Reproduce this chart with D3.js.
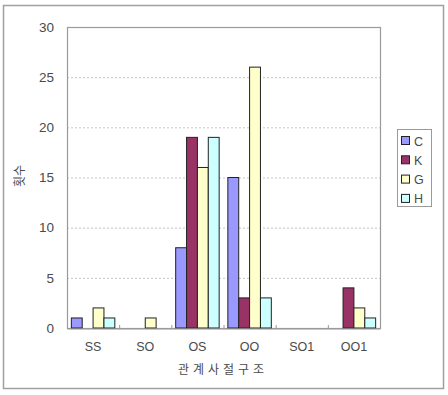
<!DOCTYPE html>
<html>
<head>
<meta charset="utf-8">
<script src="https://cdn.jsdelivr.net/npm/d3@7"></script>
<style>
  body { margin: 0; background: #fff; }
  text { font-family: "Liberation Sans", Arial, sans-serif; fill: #4a4a4a; }
  .kr { font-family: "Noto Sans CJK KR", sans-serif; }
</style>
</head>
<body>
<div id="chart"></div>
<script>
// 데이터
const categories = ["SS", "SO", "OS", "OO", "SO1", "OO1"];
const seriesNames = ["C", "K", "G", "H"];
const valuesC = [1, 0, 8, 15, 0, 0];
const valuesK = [0, 0, 19, 3, 0, 4];
const valuesG = [2, 1, 16, 26, 0, 2];
const valuesH = [1, 0, 19, 3, 0, 1];
const yTicks = [0, 5, 10, 15, 20, 25, 30];
const colors = ["#9999ff", "#993366", "#ffffcc", "#ccffff"];

const allSeries = [valuesC, valuesK, valuesG, valuesH];

const W = 448, H = 395;
const plot = { left: 67, top: 27, right: 380, bottom: 328 };

const svg = d3.select("#chart").append("svg")
    .attr("width", W)
    .attr("height", H);

// 바깥 테두리
svg.append("rect")
    .attr("x", 3.5).attr("y", 5.5)
    .attr("width", 440).attr("height", 383)
    .attr("fill", "#fff")
    .attr("stroke", "#a0a0a0")
    .attr("stroke-width", 1.5);

const x0 = d3.scaleBand()
    .domain(categories)
    .range([plot.left, plot.right])
    .paddingInner(0)
    .paddingOuter(0);

const x1 = d3.scaleBand()
    .domain(seriesNames)
    .range([0, x0.bandwidth()])
    .paddingInner(0)
    .paddingOuter(0.4);

const y = d3.scaleLinear()
    .domain([0, 30])
    .range([plot.bottom, plot.top]);

// 눈금선
svg.append("g").selectAll("line")
    .data(yTicks.filter(d => d > 0 && d < 30))
    .enter().append("line")
    .attr("x1", plot.left).attr("x2", plot.right)
    .attr("y1", d => y(d) + 0.5).attr("y2", d => y(d) + 0.5)
    .attr("stroke", "#c4c4c4")
    .attr("stroke-dasharray", "2,2");

// 플롯 영역 테두리
svg.append("rect")
    .attr("x", plot.left + 0.5).attr("y", plot.top + 0.5)
    .attr("width", plot.right - plot.left).attr("height", plot.bottom - plot.top)
    .attr("fill", "none")
    .attr("stroke", "#9a9a9a")
    .attr("stroke-width", 1.2);

// 막대
const groups = svg.append("g").selectAll("g")
    .data(categories)
    .enter().append("g")
    .attr("transform", d => `translate(${x0(d)},0)`);

groups.selectAll("rect")
    .data((c, i) => seriesNames.map((s, j) => ({ s: s, v: allSeries[j][i], j: j })).filter(d => d.v > 0))
    .enter().append("rect")
    .attr("x", d => x1(d.s))
    .attr("y", d => y(d.v))
    .attr("width", x1.bandwidth())
    .attr("height", d => y(0) - y(d.v))
    .attr("fill", d => colors[d.j])
    .attr("stroke", "#222")
    .attr("stroke-width", 1);

// x축
const xAxis = svg.append("g")
    .attr("transform", `translate(0,${plot.bottom + 0.5})`)
    .call(d3.axisBottom(x0).tickSize(0).tickPadding(14));
xAxis.select(".domain").attr("stroke", "#9a9a9a");
xAxis.selectAll("text").style("font-size", "12.5px").attr("fill", "#4a4a4a");

// 카테고리 사이 작은 눈금
svg.append("g").selectAll("line")
    .data(categories.slice(1))
    .enter().append("line")
    .attr("x1", d => x0(d) + 0.5).attr("x2", d => x0(d) + 0.5)
    .attr("y1", plot.bottom - 3).attr("y2", plot.bottom)
    .attr("stroke", "#9a9a9a");

// y축
const yAxis = svg.append("g")
    .attr("transform", `translate(${plot.left},0)`)
    .call(d3.axisLeft(y).tickValues(yTicks).tickSize(0).tickPadding(13));
yAxis.select(".domain").remove();
yAxis.selectAll("text").style("font-size", "13.5px").attr("fill", "#4a4a4a");

// 축 제목
svg.append("text")
    .attr("class", "kr")
    .attr("x", 223).attr("y", 374)
    .attr("text-anchor", "middle")
    .style("font-size", "12px")
    .style("letter-spacing", "4px")
    .text("관계사절구조");

svg.append("text")
    .attr("class", "kr")
    .attr("transform", "translate(24,176) rotate(-90)")
    .attr("text-anchor", "middle")
    .style("font-size", "12px")
    .text("횟수");

// 범례
const legend = svg.append("g");
legend.append("rect")
    .attr("x", 397.5).attr("y", 129.5)
    .attr("width", 34).attr("height", 77)
    .attr("fill", "#fff")
    .attr("stroke", "#9a9a9a");

const items = legend.selectAll("g")
    .data(seriesNames)
    .enter().append("g")
    .attr("transform", (d, i) => `translate(401,${141 + i * 19.3})`);

items.append("rect")
    .attr("x", 0.5).attr("y", -4.5)
    .attr("width", 8).attr("height", 8)
    .attr("fill", (d, i) => colors[i])
    .attr("stroke", "#222");

items.append("text")
    .attr("x", 13).attr("y", 0)
    .attr("dy", "0.36em")
    .style("font-size", "12.5px")
    .text(d => d);
</script>
</body>
</html>
